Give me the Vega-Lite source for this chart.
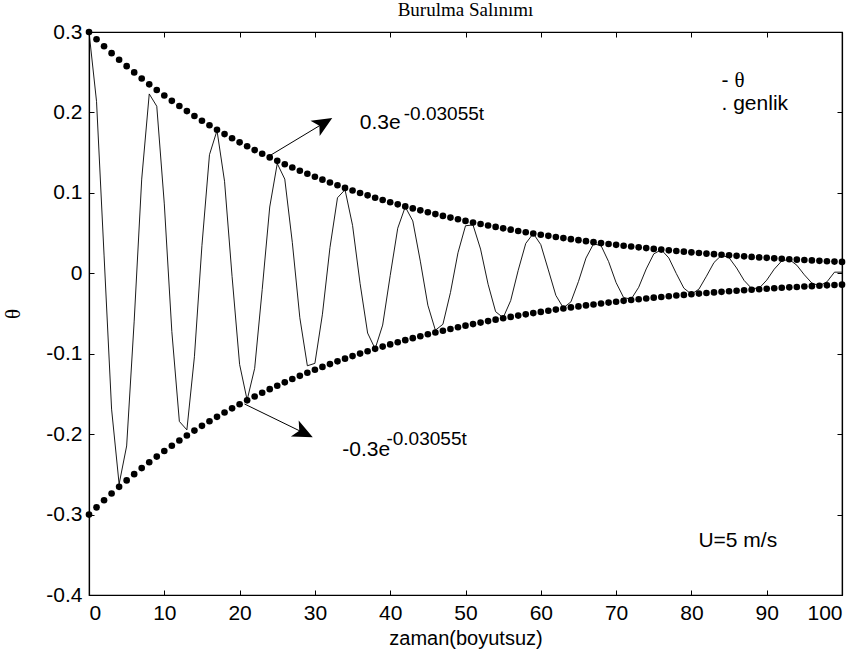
{
  "$schema": "https://vega.github.io/schema/vega-lite/v6.json",
  "autosize": "none",
  "width": 753,
  "height": 563,
  "padding": {"left": 89, "top": 32, "right": 22, "bottom": 67},
  "background": "white",
  "config": {
    "view": {"stroke": "black", "strokeWidth": 1.2},
    "axis": {"grid": false, "domainColor": "black", "domainWidth": 1.2, "tickColor": "black", "tickSize": -5, "tickWidth": 1, "labelColor": "black", "labelFont": "Liberation Sans", "labelFontSize": 21, "titleColor": "black", "titleFont": "Liberation Sans", "titleFontSize": 20, "titleFontWeight": "normal"}
  },
  "datasets": {
    "main": [
      {"t":0,"theta":0.3,"ust":0.3,"alt":-0.3},
      {"t":1,"theta":0.2138,"ust":0.29097,"alt":-0.29097},
      {"t":2,"theta":0.0226,"ust":0.28222,"alt":-0.28222},
      {"t":3,"theta":-0.1689,"ust":0.27373,"alt":-0.27373},
      {"t":4,"theta":-0.2621,"ust":0.26549,"alt":-0.26549},
      {"t":5,"theta":-0.2147,"ust":0.2575,"alt":-0.2575},
      {"t":6,"theta":-0.0595,"ust":0.24976,"alt":-0.24976},
      {"t":7,"theta":0.1171,"ust":0.24224,"alt":-0.24224},
      {"t":8,"theta":0.223,"ust":0.23495,"alt":-0.23495},
      {"t":9,"theta":0.2077,"ust":0.22788,"alt":-0.22788},
      {"t":10,"theta":0.0863,"ust":0.22103,"alt":-0.22103},
      {"t":11,"theta":-0.0724,"ust":0.21438,"alt":-0.21438},
      {"t":12,"theta":-0.1842,"ust":0.20793,"alt":-0.20793},
      {"t":13,"theta":-0.1947,"ust":0.20167,"alt":-0.20167},
      {"t":14,"theta":-0.1038,"ust":0.1956,"alt":-0.1956},
      {"t":15,"theta":0.0347,"ust":0.18972,"alt":-0.18972},
      {"t":16,"theta":0.1474,"ust":0.18401,"alt":-0.18401},
      {"t":17,"theta":0.1775,"ust":0.17847,"alt":-0.17847},
      {"t":18,"theta":0.1144,"ust":0.1731,"alt":-0.1731},
      {"t":19,"theta":-0.0039,"ust":0.16789,"alt":-0.16789},
      {"t":20,"theta":-0.1133,"ust":0.16284,"alt":-0.16284},
      {"t":21,"theta":-0.1576,"ust":0.15795,"alt":-0.15795},
      {"t":22,"theta":-0.1182,"ust":0.15319,"alt":-0.15319},
      {"t":23,"theta":-0.0203,"ust":0.14858,"alt":-0.14858},
      {"t":24,"theta":0.0824,"ust":0.14411,"alt":-0.14411},
      {"t":25,"theta":0.1365,"ust":0.13978,"alt":-0.13978},
      {"t":26,"theta":0.1171,"ust":0.13557,"alt":-0.13557},
      {"t":27,"theta":0.0385,"ust":0.13149,"alt":-0.13149},
      {"t":28,"theta":-0.0553,"ust":0.12754,"alt":-0.12754},
      {"t":29,"theta":-0.115,"ust":0.1237,"alt":-0.1237},
      {"t":30,"theta":-0.112,"ust":0.11998,"alt":-0.11998},
      {"t":31,"theta":-0.0509,"ust":0.11637,"alt":-0.11637},
      {"t":32,"theta":0.032,"ust":0.11287,"alt":-0.11287},
      {"t":33,"theta":0.0939,"ust":0.10947,"alt":-0.10947},
      {"t":34,"theta":0.1039,"ust":0.10618,"alt":-0.10618},
      {"t":35,"theta":0.0596,"ust":0.10298,"alt":-0.10298},
      {"t":36,"theta":-0.0127,"ust":0.09988,"alt":-0.09988},
      {"t":37,"theta":-0.0743,"ust":0.09688,"alt":-0.09688},
      {"t":38,"theta":-0.0939,"ust":0.09396,"alt":-0.09396},
      {"t":39,"theta":-0.0644,"ust":0.09114,"alt":-0.09114},
      {"t":40,"theta":-0.0029,"ust":0.08839,"alt":-0.08839},
      {"t":41,"theta":0.056,"ust":0.08574,"alt":-0.08574},
      {"t":42,"theta":0.0826,"ust":0.08316,"alt":-0.08316},
      {"t":43,"theta":0.0651,"ust":0.08065,"alt":-0.08065},
      {"t":44,"theta":0.0151,"ust":0.07823,"alt":-0.07823},
      {"t":45,"theta":-0.0397,"ust":0.07587,"alt":-0.07587},
      {"t":46,"theta":-0.0708,"ust":0.07359,"alt":-0.07359},
      {"t":47,"theta":-0.0634,"ust":0.07138,"alt":-0.07138},
      {"t":48,"theta":-0.024,"ust":0.06923,"alt":-0.06923},
      {"t":49,"theta":0.0255,"ust":0.06715,"alt":-0.06715},
      {"t":50,"theta":0.0591,"ust":0.06513,"alt":-0.06513},
      {"t":51,"theta":0.0601,"ust":0.06317,"alt":-0.06317},
      {"t":52,"theta":0.0301,"ust":0.06127,"alt":-0.06127},
      {"t":53,"theta":-0.0136,"ust":0.05942,"alt":-0.05942},
      {"t":54,"theta":-0.0477,"ust":0.05764,"alt":-0.05764},
      {"t":55,"theta":-0.0553,"ust":0.0559,"alt":-0.0559},
      {"t":56,"theta":-0.034,"ust":0.05422,"alt":-0.05422},
      {"t":57,"theta":0.0037,"ust":0.05259,"alt":-0.05259},
      {"t":58,"theta":0.0371,"ust":0.05101,"alt":-0.05101},
      {"t":59,"theta":0.0495,"ust":0.04947,"alt":-0.04947},
      {"t":60,"theta":0.0356,"ust":0.04798,"alt":-0.04798},
      {"t":61,"theta":0.0042,"ust":0.04654,"alt":-0.04654},
      {"t":62,"theta":-0.0275,"ust":0.04514,"alt":-0.04514},
      {"t":63,"theta":-0.0431,"ust":0.04378,"alt":-0.04378},
      {"t":64,"theta":-0.0355,"ust":0.04246,"alt":-0.04246},
      {"t":65,"theta":-0.0103,"ust":0.04119,"alt":-0.04119},
      {"t":66,"theta":0.0189,"ust":0.03995,"alt":-0.03995},
      {"t":67,"theta":0.0366,"ust":0.03874,"alt":-0.03874},
      {"t":68,"theta":0.0344,"ust":0.03758,"alt":-0.03758},
      {"t":69,"theta":0.0146,"ust":0.03645,"alt":-0.03645},
      {"t":70,"theta":-0.0116,"ust":0.03535,"alt":-0.03535},
      {"t":71,"theta":-0.0302,"ust":0.03429,"alt":-0.03429},
      {"t":72,"theta":-0.0322,"ust":0.03326,"alt":-0.03326},
      {"t":73,"theta":-0.0174,"ust":0.03226,"alt":-0.03226},
      {"t":74,"theta":0.0054,"ust":0.03129,"alt":-0.03129},
      {"t":75,"theta":0.0241,"ust":0.03034,"alt":-0.03034},
      {"t":76,"theta":0.0293,"ust":0.02943,"alt":-0.02943},
      {"t":77,"theta":0.0191,"ust":0.02855,"alt":-0.02855},
      {"t":78,"theta":-0.0004,"ust":0.02769,"alt":-0.02769},
      {"t":79,"theta":-0.0185,"ust":0.02685,"alt":-0.02685},
      {"t":80,"theta":-0.026,"ust":0.02605,"alt":-0.02605},
      {"t":81,"theta":-0.0197,"ust":0.02526,"alt":-0.02526},
      {"t":82,"theta":-0.0036,"ust":0.0245,"alt":-0.0245},
      {"t":83,"theta":0.0134,"ust":0.02376,"alt":-0.02376},
      {"t":84,"theta":0.0225,"ust":0.02305,"alt":-0.02305},
      {"t":85,"theta":0.0194,"ust":0.02236,"alt":-0.02236},
      {"t":86,"theta":0.0066,"ust":0.02168,"alt":-0.02168},
      {"t":87,"theta":-0.0089,"ust":0.02103,"alt":-0.02103},
      {"t":88,"theta":-0.0189,"ust":0.0204,"alt":-0.0204},
      {"t":89,"theta":-0.0185,"ust":0.01978,"alt":-0.01978},
      {"t":90,"theta":-0.0086,"ust":0.01919,"alt":-0.01919},
      {"t":91,"theta":0.0051,"ust":0.01861,"alt":-0.01861},
      {"t":92,"theta":0.0154,"ust":0.01805,"alt":-0.01805},
      {"t":93,"theta":0.0172,"ust":0.01751,"alt":-0.01751},
      {"t":94,"theta":0.01,"ust":0.01698,"alt":-0.01698},
      {"t":95,"theta":-0.0019,"ust":0.01647,"alt":-0.01647},
      {"t":96,"theta":-0.0122,"ust":0.01598,"alt":-0.01598},
      {"t":97,"theta":-0.0155,"ust":0.0155,"alt":-0.0155},
      {"t":98,"theta":-0.0107,"ust":0.01503,"alt":-0.01503},
      {"t":99,"theta":0.0014,"ust":0.01458,"alt":-0.01458},
      {"t":100,"theta":0.0014,"ust":0.01414,"alt":-0.01414}
    ],
    "oklar": [
      {"x1": 23.97, "y1": 0.146, "x2": 31.04, "y2": 0.1859},
      {"x1": 20.65, "y1": -0.1625, "x2": 28.39, "y2": -0.1978}
    ]
  },
  "resolve": {"axis": {"x": "independent", "y": "independent"}},
  "layer": [
    {
      "data": {"name": "main"},
      "mark": {"type": "line", "color": "black", "strokeWidth": 0.9},
      "encoding": {
        "x": {"field": "t", "type": "quantitative", "scale": {"domain": [0, 100], "nice": false, "zero": false},
              "axis": {"orient": "bottom", "values": [0,10,20,30,40,50,60,70,80,90,100], "labelPadding": 12, "title": "zaman(boyutsuz)", "titlePadding": 5}},
        "y": {"field": "theta", "type": "quantitative", "scale": {"domain": [-0.4, 0.3], "nice": false, "zero": false},
              "axis": {"orient": "left", "values": [-0.4,-0.3,-0.2,-0.1,0,0.1,0.2,0.3], "labelPadding": 12, "labelExpr": "datum.value == 0 ? '0' : (datum.value < 0 ? '-' + format(-datum.value, '.1f') : format(datum.value, '.1f'))", "title": "θ", "titleFont": "Liberation Serif", "titleFontSize": 21, "titlePadding": 22}}
      }
    },
    {
      "data": {"name": "main"},
      "mark": {"type": "point", "filled": true, "color": "black", "opacity": 1, "size": 44},
      "encoding": {
        "x": {"field": "t", "type": "quantitative", "scale": {"domain": [0, 100], "nice": false, "zero": false},
              "axis": {"orient": "top", "values": [0,10,20,30,40,50,60,70,80,90,100], "labels": false, "title": null}},
        "y": {"field": "ust", "type": "quantitative", "scale": {"domain": [-0.4, 0.3], "nice": false, "zero": false},
              "axis": {"orient": "right", "values": [-0.4,-0.3,-0.2,-0.1,0,0.1,0.2,0.3], "labels": false, "title": null}}
      }
    },
    {
      "data": {"name": "main"},
      "mark": {"type": "point", "filled": true, "color": "black", "opacity": 1, "size": 44},
      "encoding": {
        "x": {"field": "t", "type": "quantitative", "axis": null},
        "y": {"field": "alt", "type": "quantitative", "axis": null}
      }
    },
    {
      "data": {"name": "oklar"},
      "mark": {"type": "rule", "color": "black", "strokeWidth": 1},
      "encoding": {
        "x": {"field": "x1", "type": "quantitative", "axis": null},
        "y": {"field": "y1", "type": "quantitative", "axis": null},
        "x2": {"field": "x2"},
        "y2": {"field": "y2"}
      }
    },
    {
      "data": {"values": [{"x": 31.04, "y": 0.1859}]},
      "mark": {"type": "point", "filled": true, "color": "black", "opacity": 1, "size": 494, "angle": 59, "shape": "M0,-1L0.8,0.8L0,0.35L-0.8,0.8Z"},
      "encoding": {
        "x": {"field": "x", "type": "quantitative", "axis": null},
        "y": {"field": "y", "type": "quantitative", "axis": null}
      }
    },
    {
      "data": {"values": [{"x": 28.39, "y": -0.1978}]},
      "mark": {"type": "point", "filled": true, "color": "black", "opacity": 1, "size": 494, "angle": 116, "shape": "M0,-1L0.8,0.8L0,0.35L-0.8,0.8Z"},
      "encoding": {
        "x": {"field": "x", "type": "quantitative", "axis": null},
        "y": {"field": "y", "type": "quantitative", "axis": null}
      }
    },
    {
      "data": {"values": [{"x": 50, "y": 0.3202, "label": "Burulma Salınımı"}]},
      "mark": {"type": "text", "align": "center", "baseline": "alphabetic", "font": "Liberation Serif", "fontSize": 19, "color": "black", "clip": false},
      "encoding": {
        "x": {"field": "x", "type": "quantitative", "axis": null},
        "y": {"field": "y", "type": "quantitative", "axis": null},
        "text": {"field": "label"}
      }
    },
    {
      "data": {"values": [
        {"x": 35.96, "y": 0.1796, "label": "0.3e"},
        {"x": 33.63, "y": -0.2272, "label": "-0.3e"},
        {"x": 84.0, "y": 0.2033, "label": ". genlik"},
        {"x": 84.0, "y": 0.2319, "label": "-"},
        {"x": 80.93, "y": -0.34, "label": "U=5 m/s"}
      ]},
      "mark": {"type": "text", "align": "left", "baseline": "alphabetic", "font": "Liberation Sans", "fontSize": 21, "color": "black"},
      "encoding": {
        "x": {"field": "x", "type": "quantitative", "axis": null},
        "y": {"field": "y", "type": "quantitative", "axis": null},
        "text": {"field": "label"}
      }
    },
    {
      "data": {"values": [
        {"x": 41.8, "y": 0.1908, "label": "-0.03055t"},
        {"x": 39.5, "y": -0.2135, "label": "-0.03055t"}
      ]},
      "mark": {"type": "text", "align": "left", "baseline": "alphabetic", "font": "Liberation Sans", "fontSize": 19, "color": "black"},
      "encoding": {
        "x": {"field": "x", "type": "quantitative", "axis": null},
        "y": {"field": "y", "type": "quantitative", "axis": null},
        "text": {"field": "label"}
      }
    },
    {
      "data": {"values": [{"x": 85.72, "y": 0.2319, "label": "θ"}]},
      "mark": {"type": "text", "align": "left", "baseline": "alphabetic", "font": "Liberation Serif", "fontSize": 21, "color": "black"},
      "encoding": {
        "x": {"field": "x", "type": "quantitative", "axis": null},
        "y": {"field": "y", "type": "quantitative", "axis": null},
        "text": {"field": "label"}
      }
    }
  ]
}
